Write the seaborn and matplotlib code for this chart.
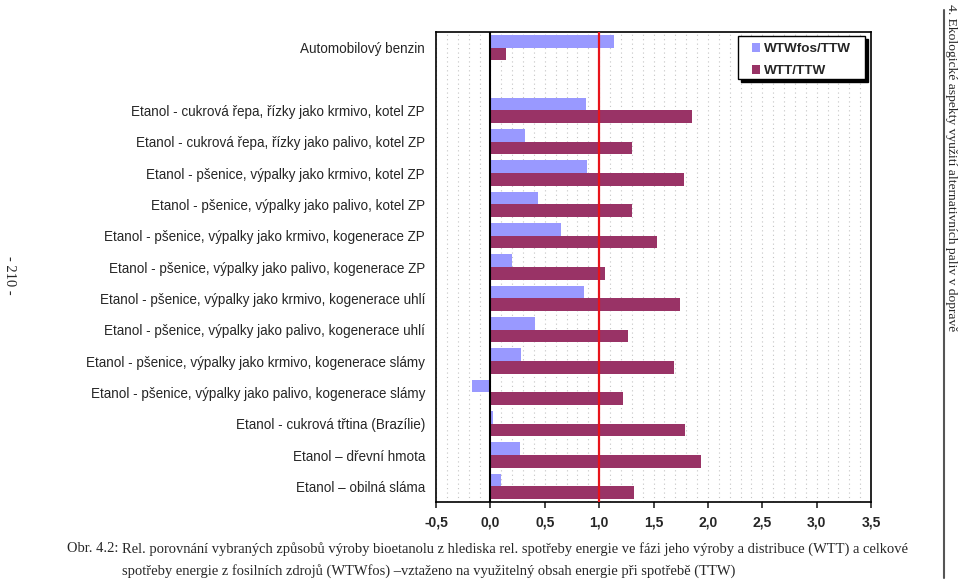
import matplotlib
matplotlib.use("Agg")
import matplotlib.pyplot as plt
from matplotlib.patches import Rectangle
from matplotlib.ticker import MultipleLocator, FuncFormatter
import seaborn as sns
import pandas as pd
import numpy as np

categories = [
    "Automobilový benzin",
    "",
    "Etanol - cukrová řepa, řízky jako krmivo, kotel ZP",
    "Etanol - cukrová řepa, řízky jako palivo, kotel ZP",
    "Etanol - pšenice, výpalky jako krmivo, kotel ZP",
    "Etanol - pšenice, výpalky jako palivo, kotel ZP",
    "Etanol - pšenice, výpalky jako krmivo, kogenerace ZP",
    "Etanol - pšenice, výpalky jako palivo, kogenerace ZP",
    "Etanol - pšenice, výpalky jako krmivo, kogenerace uhlí",
    "Etanol - pšenice, výpalky jako palivo, kogenerace uhlí",
    "Etanol - pšenice, výpalky jako krmivo, kogenerace slámy",
    "Etanol - pšenice, výpalky jako palivo, kogenerace slámy",
    "Etanol - cukrová třtina (Brazílie)",
    "Etanol – dřevní hmota",
    "Etanol – obilná sláma",
]
series_names = ["WTWfos/TTW", "WTT/TTW"]
wtwfos_ttw = [1.14, np.nan, 0.875, 0.32, 0.89, 0.44, 0.645, 0.20, 0.86, 0.413,
              0.28, -0.165, 0.02, 0.27, 0.10]
wtt_ttw = [0.144, np.nan, 1.85, 1.30, 1.78, 1.30, 1.53, 1.056, 1.74, 1.27,
           1.69, 1.22, 1.79, 1.94, 1.32]
x_ticks = [-0.5, 0.0, 0.5, 1.0, 1.5, 2.0, 2.5, 3.0, 3.5]
reference_value = 1.0
colors = ["#9999FF", "#993366"]

caption_label = "Obr. 4.2:"
caption_1 = ("Rel. porovnání vybraných způsobů výroby bioetanolu z hlediska rel. "
             "spotřeby energie ve fázi jeho výroby a distribuce (WTT) a celkové")
caption_2 = ("spotřeby energie z fosilních zdrojů (WTWfos) –vztaženo na využitelný obsah "
             "energie při spotřebě (TTW)")
side_title = "4. Ekologické aspekty využití alternativních paliv v dopravě"
page_number = "- 210 -"

df = pd.DataFrame({
    "kategorie": categories * 2,
    "serie": [series_names[0]] * len(categories) + [series_names[1]] * len(categories),
    "hodnota": wtwfos_ttw + wtt_ttw,
})

sns.set_style("white")
plt.rcParams["font.family"] = ["Liberation Sans", "DejaVu Sans"]

W, H = 960, 582
fig = plt.figure(figsize=(W / 100, H / 100), dpi=100)
ax = fig.add_axes([436 / W, 1 - 502 / H, (871 - 436) / W, (502 - 32) / H])

sns.barplot(data=df, y="kategorie", x="hodnota", hue="serie", order=categories,
            hue_order=series_names, palette=colors, orient="h", ax=ax,
            saturation=1, width=0.8, linewidth=0, errorbar=None)

ax.set_xlim(-0.5, 3.5)
ax.set_ylim(len(categories) - 0.5, -0.5)
ax.set_xticks(x_ticks)
ax.xaxis.set_major_formatter(FuncFormatter(lambda v, p: f"{v:.1f}".replace(".", ",")))
ax.xaxis.set_minor_locator(MultipleLocator(0.1))
ax.grid(False)
ax.grid(True, which="both", axis="x", color="#C4C4C4", linestyle=(0, (1, 3)), linewidth=0.8)
ax.set_axisbelow(True)
ax.axvline(0, color="black", linewidth=1.5, zorder=3)
ax.axvline(reference_value, color="#E8141B", linewidth=1.6, zorder=4)

ax.set_xlabel("")
ax.set_ylabel("")
for s in ax.spines.values():
    s.set_visible(True)
    s.set_color("black")
    s.set_linewidth(1.2)
ax.tick_params(axis="x", which="major", length=4, width=1.2, direction="out",
               labelsize=10, pad=6, bottom=True)
ax.tick_params(axis="x", which="minor", length=0)
ax.tick_params(axis="y", length=0, labelsize=9.75, pad=8)
for lbl in ax.get_xticklabels():
    lbl.set_fontweight("bold")

# legend box with black drop shadow (wide frame as in the original)
bx0, bx1, by0, by1 = 738, 865, 36, 79
ax.add_patch(Rectangle(((bx0 + 3) / W, 1 - (by1 + 3) / H), (bx1 - bx0) / W, (by1 - by0) / H,
                       transform=fig.transFigure, facecolor="black", edgecolor="black",
                       zorder=8, clip_on=False))
ax.add_patch(Rectangle((bx0 / W, 1 - by1 / H), (bx1 - bx0) / W, (by1 - by0) / H,
                       transform=fig.transFigure, facecolor="white", edgecolor="black",
                       linewidth=1.0, zorder=9, clip_on=False))
leg = ax.legend(loc="center", bbox_to_anchor=((bx0 + bx1) / 2 / W, 1 - ((by0 + by1) / 2 + 2.5) / H),
                bbox_transform=fig.transFigure, frameon=False,
                prop={"weight": "bold", "size": 9.7}, handlelength=0.65, handleheight=0.65,
                handletextpad=0.3, borderpad=0.0, labelspacing=0.75, borderaxespad=0)
leg.set_zorder(10)

serif = ["Liberation Serif"]
fig.text(118 / W, 1 - 549 / H, caption_label, family=serif, fontsize=10.45,
         va="center", ha="right")
fig.text(122 / W, 1 - 549 / H, caption_1, family=serif, fontsize=10.45,
         va="center", ha="left")
fig.text(122 / W, 1 - 571 / H, caption_2, family=serif, fontsize=10.45,
         va="center", ha="left")
fig.text(951 / W, 1 - 168 / H, side_title, family=serif, fontsize=9.7,
         rotation=270, va="center", ha="center")
fig.text(9 / W, 1 - 275 / H, page_number, family=serif, fontsize=10.5,
         rotation=270, va="center", ha="center")
fig.add_artist(plt.Line2D([944 / W, 944 / W], [1 - 10 / H, 1 - 578 / H],
                          transform=fig.transFigure, color="#555555", linewidth=1.5))

fig.savefig("out.png", dpi=100)
